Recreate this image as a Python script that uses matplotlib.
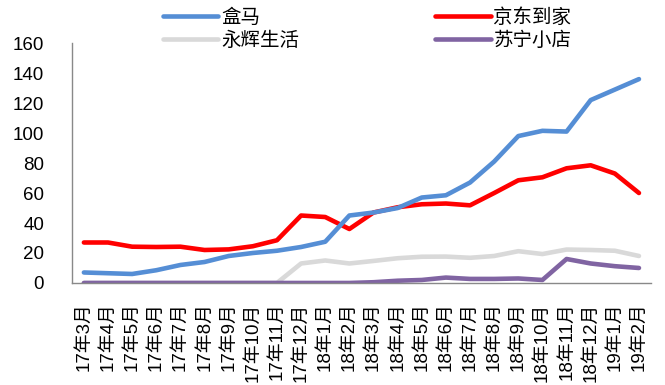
import matplotlib
matplotlib.use("Agg")
import matplotlib.pyplot as plt

plt.rcParams['font.family'] = ['Liberation Sans', 'Noto Sans CJK SC']

# -------------------------------------------------------
# Data
# -------------------------------------------------------

months = ["17年3月", "17年4月", "17年5月", "17年6月", "17年7月", "17年8月",
          "17年9月", "17年10月", "17年11月", "17年12月", "18年1月", "18年2月",
          "18年3月", "18年4月", "18年5月", "18年6月", "18年7月", "18年8月",
          "18年9月", "18年10月", "18年11月", "18年12月", "19年1月", "19年2月"]

hema = [7, 6.5, 6, 8.5, 12, 14, 18, 20, 21.5, 24, 27.5, 45,
        47, 50, 57, 58.5, 67, 81, 98, 101.5, 101, 122, 129, 136]

jd_daojia = [27, 27, 24.2, 24, 24.2, 22, 22.4, 24.5, 28.5, 45, 44, 36,
             47, 50.5, 52.5, 53, 51.8, 60, 68.5, 70.5, 76.5, 78.5, 73, 60]

yonghui = [0, 0, 0, 0, 0, 0, 0, 0, 0, 13, 15, 13,
           14.7, 16.5, 17.5, 17.6, 16.8, 18, 21.2, 19.3, 22.3, 22, 21.5, 18]

suning = [0, 0, 0, 0, 0, 0, 0, 0, 0, 0, 0, 0,
          0.5, 1.5, 2, 3.6, 2.7, 2.7, 3, 2, 16, 13, 11.2, 10]

# -------------------------------------------------------
# Plot
# -------------------------------------------------------

fig = plt.figure(figsize=(6.65, 3.85), dpi=100)
ax = fig.add_axes([0.108, 0.265, 0.871, 0.623])

x = range(len(months))
lw = 3.3
ax.plot(x, suning, color="#8064A2", lw=lw, solid_capstyle="round", label="苏宁小店", zorder=2)
ax.plot(x, yonghui, color="#D9D9D9", lw=lw, solid_capstyle="round", label="永辉生活", zorder=1)
ax.plot(x, jd_daojia, color="#FF0000", lw=lw, solid_capstyle="round", label="京东到家", zorder=3)
ax.plot(x, hema, color="#558ED5", lw=lw, solid_capstyle="round", label="盒马", zorder=3)

ax.set_xlim(-0.5, len(months) - 0.5)
ax.set_ylim(0, 160)
ax.set_yticks(range(0, 161, 20))
ax.set_xticks(list(x))
ax.set_xticklabels(months, rotation=90, fontsize=13.5)
ax.tick_params(axis="y", length=0, labelsize=13.5, pad=20)
ax.tick_params(axis="x", length=0, pad=14)

for s in ["top", "right"]:
    ax.spines[s].set_visible(False)
for s in ["left", "bottom"]:
    ax.spines[s].set_color("#898989")
    ax.spines[s].set_linewidth(1)

handles, labels = ax.get_legend_handles_labels()
order = [3, 1, 2, 0]
fig.legend([handles[i] for i in order], [labels[i] for i in order],
           ncol=2, loc="center", bbox_to_anchor=(0.552, 0.925),
           frameon=False, handlelength=2.85, handletextpad=0.15,
           columnspacing=7.0, labelspacing=0.1,
           prop={"family": ["Noto Sans CJK SC"], "size": 14})

fig.savefig("out.png", dpi=100)
plt.close(fig)
